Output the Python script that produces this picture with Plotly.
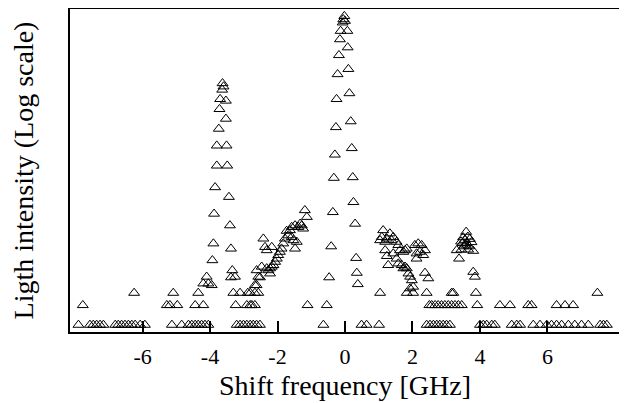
import plotly.graph_objects as go

# Shift frequency [GHz] and light intensity (arbitrary log units, 0-100)
freq_floor = [-7.90, -7.56, -7.46, -7.36, -7.26, -7.16, -6.81, -6.72, -6.62, -6.52, -6.42, -6.32,
              -6.22, -6.07, -5.93, -5.13, -4.84, -4.64, -4.54, -4.44, -4.35, -4.25, -4.15, -4.05,
              -3.21, -3.11, -3.01, -2.91, -2.81, -2.72, -2.62, -2.52, -0.64, 0.49, 0.64, 1.01,
              2.42, 2.52, 2.62, 2.72, 2.81, 2.91, 3.01, 3.11, 4.00, 4.10, 4.20, 4.35, 4.44,
              4.94, 5.09, 5.19, 5.58, 5.78, 5.98, 6.12, 6.27, 6.42, 6.62, 6.81, 7.01, 7.21,
              7.56, 7.66, 7.76]
int_floor = [2.2] * len(freq_floor)

freq_low = [-7.77, -5.28, -5.19, -4.97, -4.44, -4.20, -3.24, -2.91, -2.81, -2.76, -2.67,
            -1.11, -0.54, 2.50, 2.57, 2.67, 2.76, 2.86, 2.96, 3.06, 3.16, 3.26, 3.36, 3.46,
            3.92, 4.59, 4.89, 5.43, 5.53, 6.27, 6.52, 6.76,
            -6.25, -5.09, -4.35, -3.31, -3.11, -2.88, -2.67, -2.81, -2.57, 1.04, 1.83, 2.02,
            2.42, 3.16, 3.21, 3.88, 7.48]
int_low = [8.3] * 32 + [12.1] * 17

freq_left_peak = [-3.63, -3.60, -3.64, -3.70, -3.53, -3.72, -3.53, -3.74, -3.80, -3.51, -3.80,
                  -3.49, -3.85, -3.44, -3.88, -3.41, -3.90, -3.38, -3.93, -4.10, -4.20, -4.05,
                  -3.95, -3.34, -3.26, -3.38, -2.57, -2.67, -2.62]
int_left_peak = [77.0, 76.0, 75.0, 72.1, 71.6, 69.0, 66.0, 62.9, 57.7, 57.7, 51.5,
                 51.5, 44.8, 41.8, 36.6, 33.0, 27.4, 25.8, 22.2, 17.1, 15.0, 15.0,
                 14.5, 19.1, 17.1, 16.9, 17.1, 14.5, 19.1]

freq_center = [-0.02, -0.05, 0.00, -0.07, -0.13, 0.07, -0.15, 0.08, -0.18, 0.10, -0.22, 0.13,
               -0.25, 0.17, -0.27, 0.20, -0.30, -0.33, 0.23, 0.25, -0.36, 0.30, -0.41, 0.33,
               -0.47, 0.35, 0.38]
int_center = [97.8, 96.8, 96.3, 95.8, 93.2, 93.2, 90.6, 88.1, 85.7, 81.4, 79.8, 73.9,
              72.1, 65.2, 63.4, 56.9, 54.9, 47.7, 47.9, 40.2, 37.1, 33.5, 26.5, 22.9,
              16.9, 18.3, 14.8]

freq_slope = [-1.19, -1.13, -1.33, -1.28, -1.38, -1.24, -1.48, -1.58, -1.63, -1.73,
              -2.42, -2.37, -2.32, -2.17, -1.78, -1.68, -1.58, -1.53, -1.43, -1.48,
              -1.83, -1.88, -1.93, -1.98, -2.02, -2.07, -2.12, -2.17, -2.22,
              -2.47, -2.32, -2.27, -2.22, -2.52, -2.62]
int_slope = [37.7, 35.6, 33.5, 33.0, 32.5, 32.0, 33.0, 32.5, 31.5, 31.3,
             28.9, 26.3, 25.3, 26.3, 28.9, 29.9, 29.4, 28.4, 27.9, 25.8,
             27.4, 25.8, 24.8, 23.8, 22.7, 21.7, 20.7, 20.2, 19.7,
             20.2, 19.7, 19.1, 18.1, 16.9, 14.5]

freq_right = [1.13, 1.09, 1.04, 1.19, 1.24, 1.33, 1.38, 1.43, 1.53, 1.58, 1.63, 1.73, 1.78, 1.83,
              1.19, 1.24, 1.28, 1.43, 1.53, 1.58, 1.68, 1.73, 1.78, 1.83, 1.88, 1.93, 1.98, 2.02,
              1.93, 2.07, 2.17, 2.27, 2.22, 2.12, 2.32, 2.37, 2.12, 2.37, 2.47,
              3.59, 3.50, 3.55, 3.64, 3.70, 3.44, 3.60, 3.68, 3.52, 3.58, 3.48, 3.75, 3.31,
              3.80, 3.38, 3.45, 3.65, 3.80, 3.85]
int_right = [31.5, 29.4, 28.4, 27.9, 28.9, 30.5, 28.4, 29.4, 27.9, 26.9, 25.3, 24.8, 25.3, 25.8,
             25.3, 23.5, 20.7, 24.3, 22.7, 21.2, 20.7, 19.7, 20.2, 19.7, 18.1, 17.1, 16.0, 14.0,
             13.5, 26.9, 27.4, 26.9, 24.8, 24.3, 23.8, 25.3, 22.7, 18.3, 16.6,
             31.0, 29.3, 28.5, 29.5, 28.8, 28.0, 27.5, 26.5, 26.5, 27.0, 27.5, 27.8, 25.3,
             25.1, 22.7, 25.5, 25.5, 18.6, 17.1]

x_ticks = [-6, -4, -2, 0, 2, 4, 6]

freq = freq_floor + freq_low + freq_left_peak + freq_center + freq_slope + freq_right
intensity = int_floor + int_low + int_left_peak + int_center + int_slope + int_right

fig = go.Figure(go.Scatter(
    x=freq, y=intensity, mode="markers",
    marker=dict(symbol="triangle-up-open", size=9.5, color="black", line=dict(width=1)),
    showlegend=False,
))

font = "Liberation Serif, Times New Roman, serif"
fig.update_layout(
    width=619, height=395,
    margin=dict(l=62, r=7, t=1, b=71, autoexpand=False),
    paper_bgcolor="white", plot_bgcolor="white",
    font=dict(family=font, color="black", size=22),
    xaxis=dict(
        range=[-8.15, 8.15], tickvals=x_ticks, ticktext=[str(v) for v in x_ticks],
        ticks="inside", ticklen=11, tickwidth=1.5, tickcolor="black",
        showline=True, linecolor="black", linewidth=2, mirror=True,
        showgrid=False, zeroline=False, ticklabelstandoff=4,
        tickfont=dict(size=22, family=font),
        title=dict(text="Shift frequency [GHz]", font=dict(size=28, family=font), standoff=7),
    ),
    yaxis=dict(
        range=[0, 100], showticklabels=False, ticks="",
        showline=True, linecolor="black", linewidth=2, mirror=True,
        showgrid=False, zeroline=False,
        title=dict(text="Ligth intensity (Log scale)", font=dict(size=28, family=font), standoff=29),
    ),
)

fig.write_html("out.html")
